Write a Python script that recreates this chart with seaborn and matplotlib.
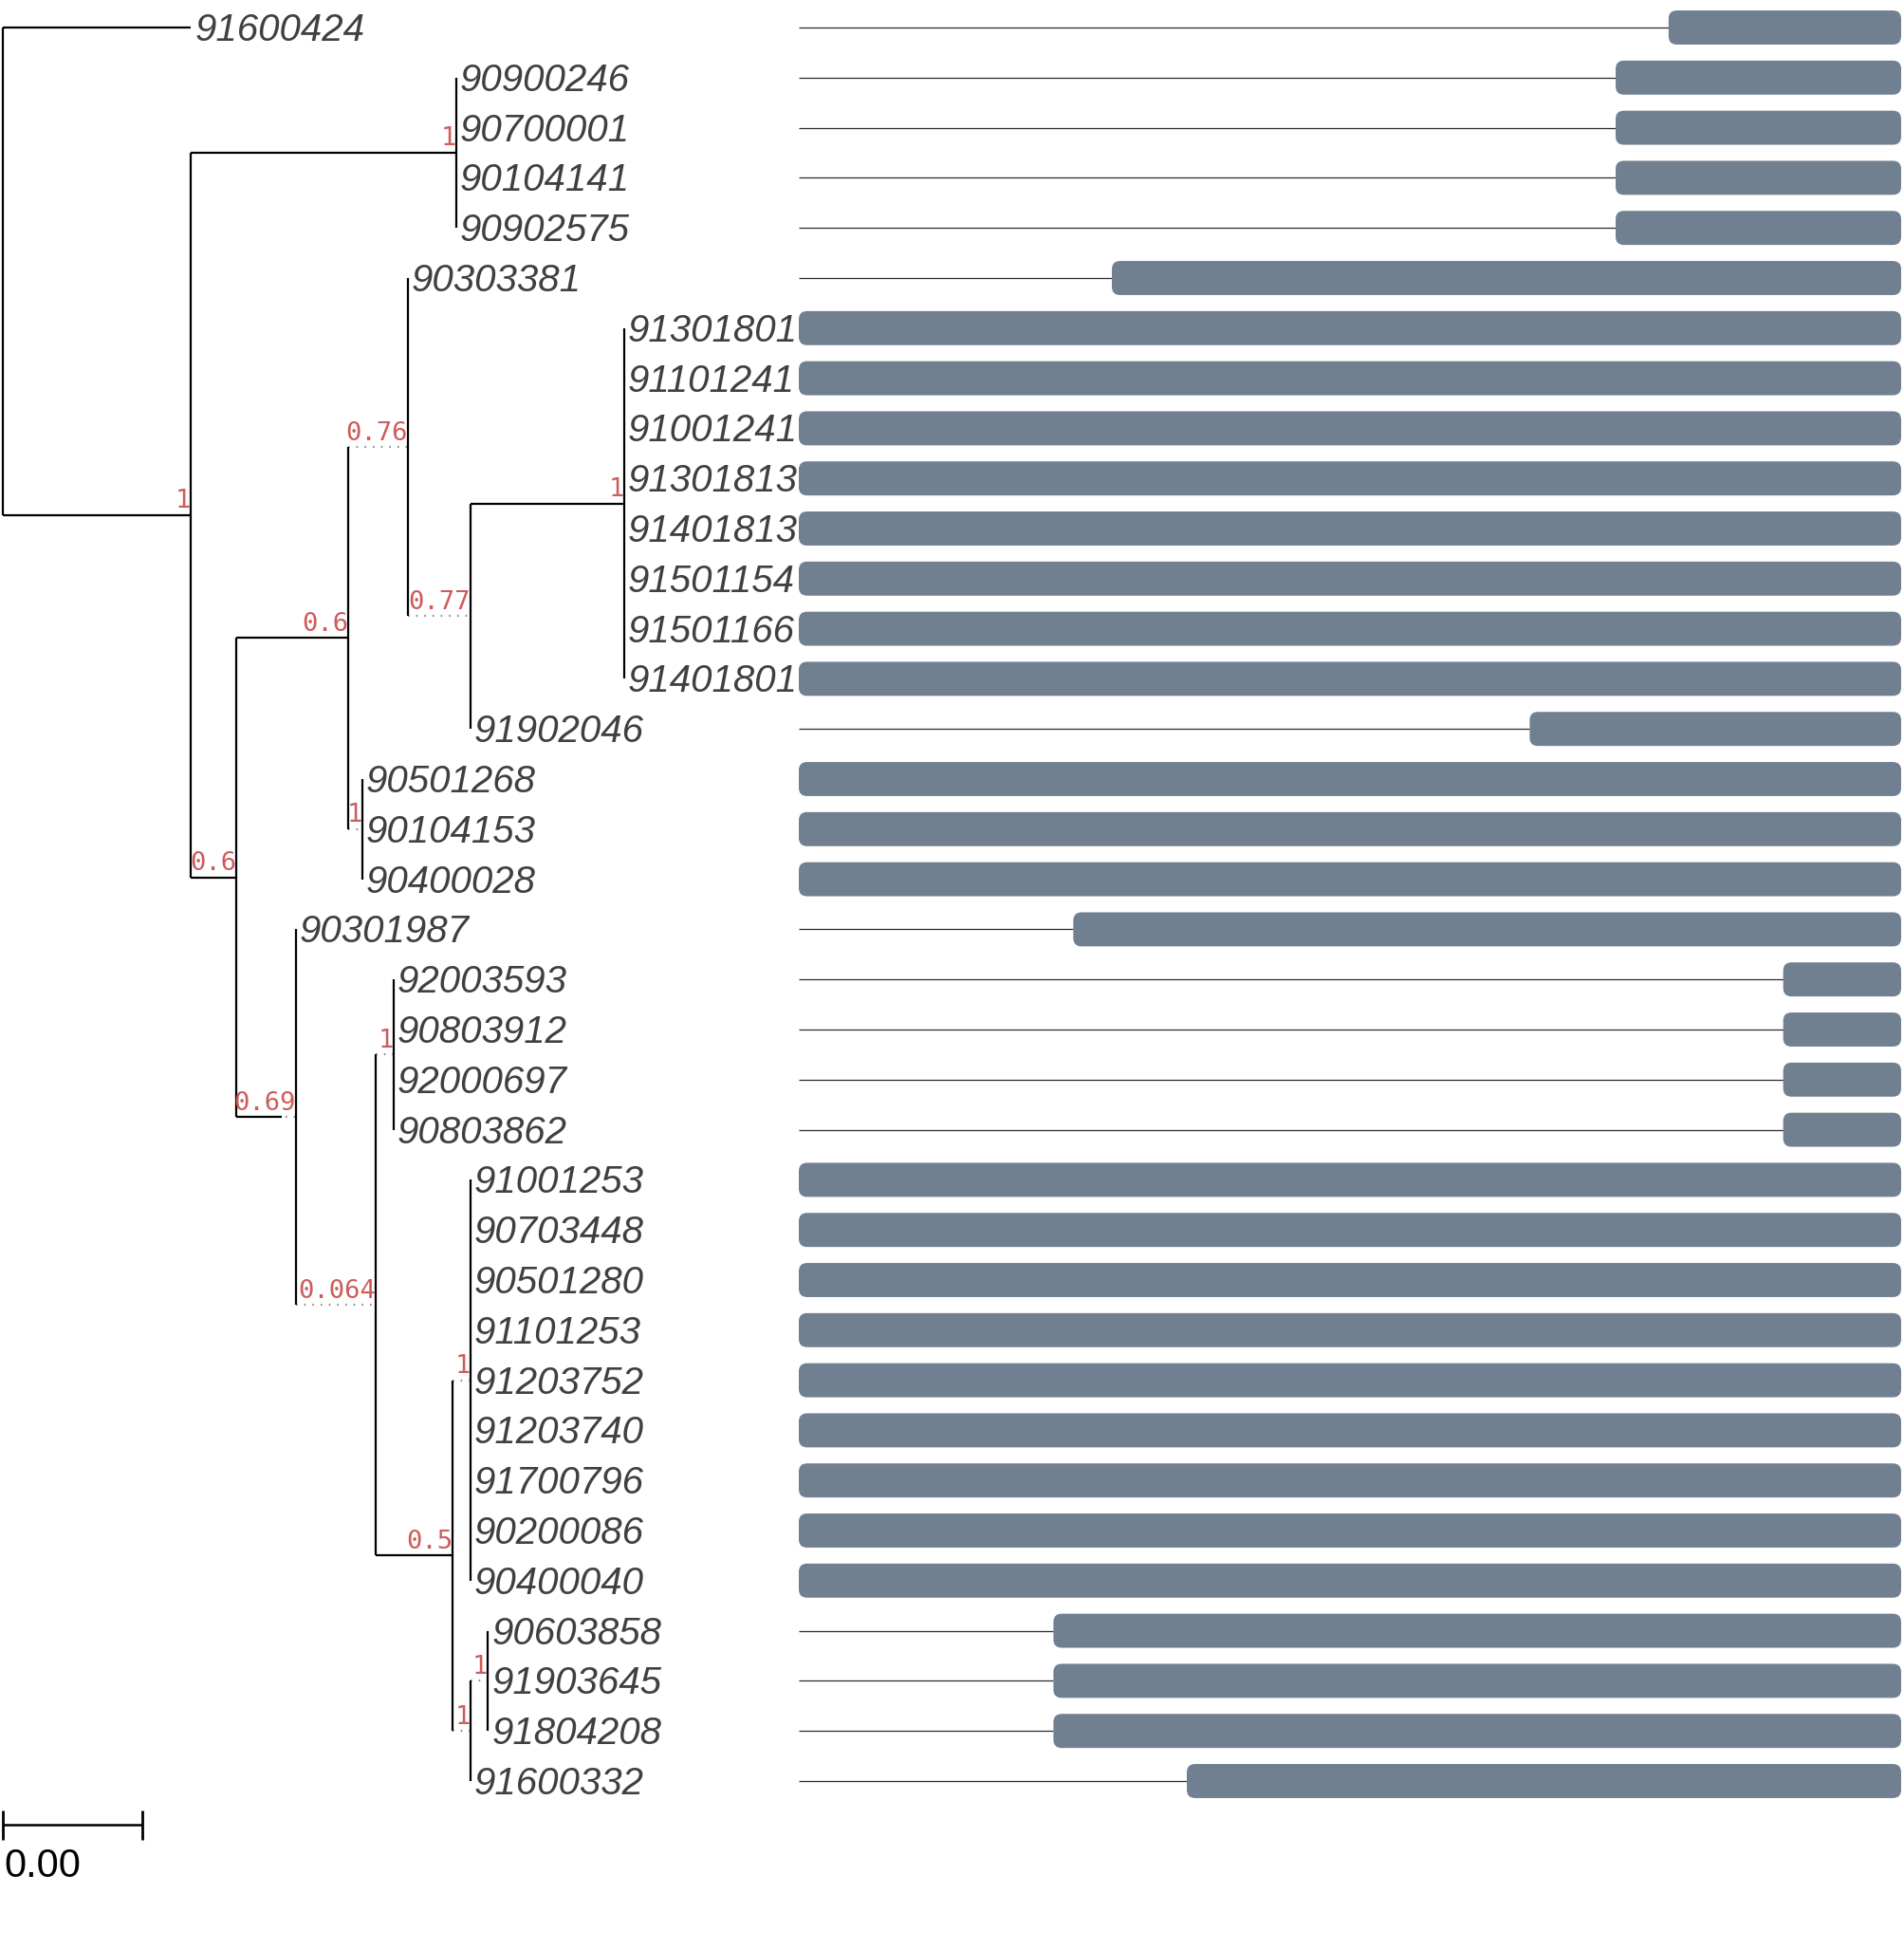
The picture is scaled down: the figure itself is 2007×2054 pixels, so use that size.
import numpy as np
import pandas as pd
import seaborn as sns
import matplotlib.pyplot as plt
from matplotlib.patches import FancyBboxPatch

# tree edges, listed parent by parent in preorder
parent = ["root", "root",
          "A", "A",
          "B", "B", "B", "B",
          "C", "C",
          "D", "D",
          "E", "E",
          "F", "F",
          "G", "G", "G", "G", "G", "G", "G", "G",
          "H", "H", "H",
          "I", "I",
          "J", "J",
          "K", "K", "K", "K",
          "L", "L",
          "M", "M", "M", "M", "M", "M", "M", "M", "M",
          "N", "N",
          "O", "O", "O"]
child = ["91600424", "A",
         "B", "C",
         "90900246", "90700001", "90104141", "90902575",
         "D", "I",
         "E", "H",
         "90303381", "F",
         "G", "91902046",
         "91301801", "91101241", "91001241", "91301813", "91401813", "91501154", "91501166", "91401801",
         "90501268", "90104153", "90400028",
         "90301987", "J",
         "K", "L",
         "92003593", "90803912", "92000697", "90803862",
         "M", "N",
         "91001253", "90703448", "90501280", "91101253", "91203752", "91203740", "91700796", "90200086", "90400040",
         "O", "91600332",
         "90603858", "91903645", "91804208"]
blen = [0.0054, 0.0054,
        0.0076, 0.0013,
        0, 0, 0, 0,
        0.0032, 0.0017,
        0.0017, 0.0004,
        0, 0.0018,
        0.0044, 0,
        0, 0, 0, 0, 0, 0, 0, 0,
        0, 0, 0,
        0, 0.0023,
        0.0005, 0.0022,
        0, 0, 0, 0,
        0.0005, 0.0005,
        0, 0, 0, 0, 0, 0, 0, 0, 0,
        0.0005, 0,
        0, 0, 0]

# node support labels
support_nodes = ["A", "B", "C", "D", "E", "F", "G", "H", "I", "J", "K", "L", "M", "N", "O"]
support_vals = ["1", "1", "0.6", "0.6", "0.76", "0.77", "1", "1", "0.69", "0.064", "1", "0.5", "1", "1", "1"]

# branches drawn dotted (by child node); I is partly solid
dotted = ["E", "F", "H", "J", "K", "M", "N", "O"]
solid_part = {"I": 0.76}

# right panel: where each bar starts (bars run to 100)
tips = ["91600424", "90900246", "90700001", "90104141", "90902575", "90303381",
        "91301801", "91101241", "91001241", "91301813", "91401813", "91501154",
        "91501166", "91401801", "91902046", "90501268", "90104153", "90400028",
        "90301987", "92003593", "90803912", "92000697", "90803862", "91001253",
        "90703448", "90501280", "91101253", "91203752", "91203740", "91700796",
        "90200086", "90400040", "90603858", "91903645", "91804208", "91600332"]
bar_start = [78.9, 74.1, 74.1, 74.1, 74.1, 28.4,
             0, 0, 0, 0, 0, 0,
             0, 0, 66.3, 0, 0, 0,
             24.9, 89.3, 89.3, 89.3, 89.3, 0,
             0, 0, 0, 0, 0, 0,
             0, 0, 23.1, 23.1, 23.1, 35.2]

scale_width = 0.004

# ---- layout ----
edges = pd.DataFrame({"parent": parent, "child": child, "blen": blen})
kids = edges.groupby("parent", sort=False)["child"].apply(list).to_dict()

xpos = {"root": 0.0}
for p, c, b in zip(parent, child, blen):
    xpos[c] = xpos[p] + b

ypos = {}
order = []


def place(n):
    if n not in kids:
        ypos[n] = len(order)
        order.append(n)
        return ypos[n]
    ys = [place(c) for c in kids[n]]
    ypos[n] = float(np.mean(ys))
    return ypos[n]


place("root")

W, H = 2007, 2054
row_px = 52.8
top_px = 29
px_per_unit = 36813
tree_right = 842
bar_right = 2004
ylim = ((H - top_px) / row_px, -top_px / row_px)

sns.set_theme(style="white")
plt.rcParams["font.family"] = ["Liberation Sans", "DejaVu Sans"]

fig = plt.figure(figsize=(W / 100, H / 100), dpi=100)
ax = fig.add_axes([0, 0, tree_right / W, 1])
ax.set_xlim(-2.5 / px_per_unit, (tree_right - 2.5) / px_per_unit)
ax.set_ylim(*ylim)
ax.axis("off")

lw = 1.6
# horizontal branches
for p, c in zip(parent, child):
    x0, x1, y = xpos[p], xpos[c], ypos[c]
    if x1 <= x0:
        continue
    if c in dotted or c in solid_part:
        ax.hlines(y, x0, x1, color="#8a8a8a", lw=lw, linestyles=(0, (0.7, 3.2)), zorder=2)
        if c in solid_part:
            xs = x0 + (x1 - x0) * solid_part[c]
            ax.hlines(y, x0, xs, color="black", lw=lw, zorder=3)
    else:
        ax.hlines(y, x0, x1, color="black", lw=lw, zorder=3)

# vertical connectors
for n, cs in kids.items():
    ys = [ypos[c] for c in cs]
    ax.vlines(xpos[n], min(ys), max(ys), color="black", lw=lw, zorder=3)

# tip labels
cap_off = 14 / row_px
for t in order:
    ax.text(xpos[t] + 4 / px_per_unit, ypos[t] + cap_off, t, fontsize=29,
            style="italic", color="#404040", ha="left", va="baseline")

# support labels
for n, s in zip(support_nodes, support_vals):
    ax.text(xpos[n], ypos[n] - 7.5 / row_px, s, fontsize=19.5,
            family=["DejaVu Sans Mono"], color="#cd5c5c", ha="right", va="baseline", zorder=4)

# scale bar
sb_y = 35.88
tick = 0.295
ax.hlines(sb_y, 0, scale_width, color="black", lw=1.8)
ax.vlines([0, scale_width], sb_y - tick, sb_y + tick, color="black", lw=2.0)
ax.text(2 / px_per_unit, sb_y + 0.45, f"{scale_width:.2f}", fontsize=30,
        color="black", ha="left", va="top")

# ---- right panel ----
bx = fig.add_axes([tree_right / W, 0, (bar_right - tree_right) / W, 1])
bx.set_xlim(0, 100)
bx.set_ylim(*ylim)
bx.axis("off")

start_of = dict(zip(tips, bar_start))
rows = np.array([ypos[t] for t in order])
starts = np.array([start_of[t] for t in order])

bx.hlines(rows, 0, starts, color="#2b2b2b", lw=0.9, zorder=1)
bars = bx.barh(rows, 100 - starts, left=starts, height=0.68, color="#708090")
asp = ((bar_right - tree_right) / 100) / row_px
for b in list(bars):
    x0, y0, w, h = b.get_x(), b.get_y(), b.get_width(), b.get_height()
    b.remove()
    bx.add_patch(FancyBboxPatch((x0, y0), w, h,
                                boxstyle="round,pad=0,rounding_size=0.75",
                                mutation_aspect=asp, fc="#708090", ec="none", zorder=2))

fig.savefig("out.png", dpi=100)
